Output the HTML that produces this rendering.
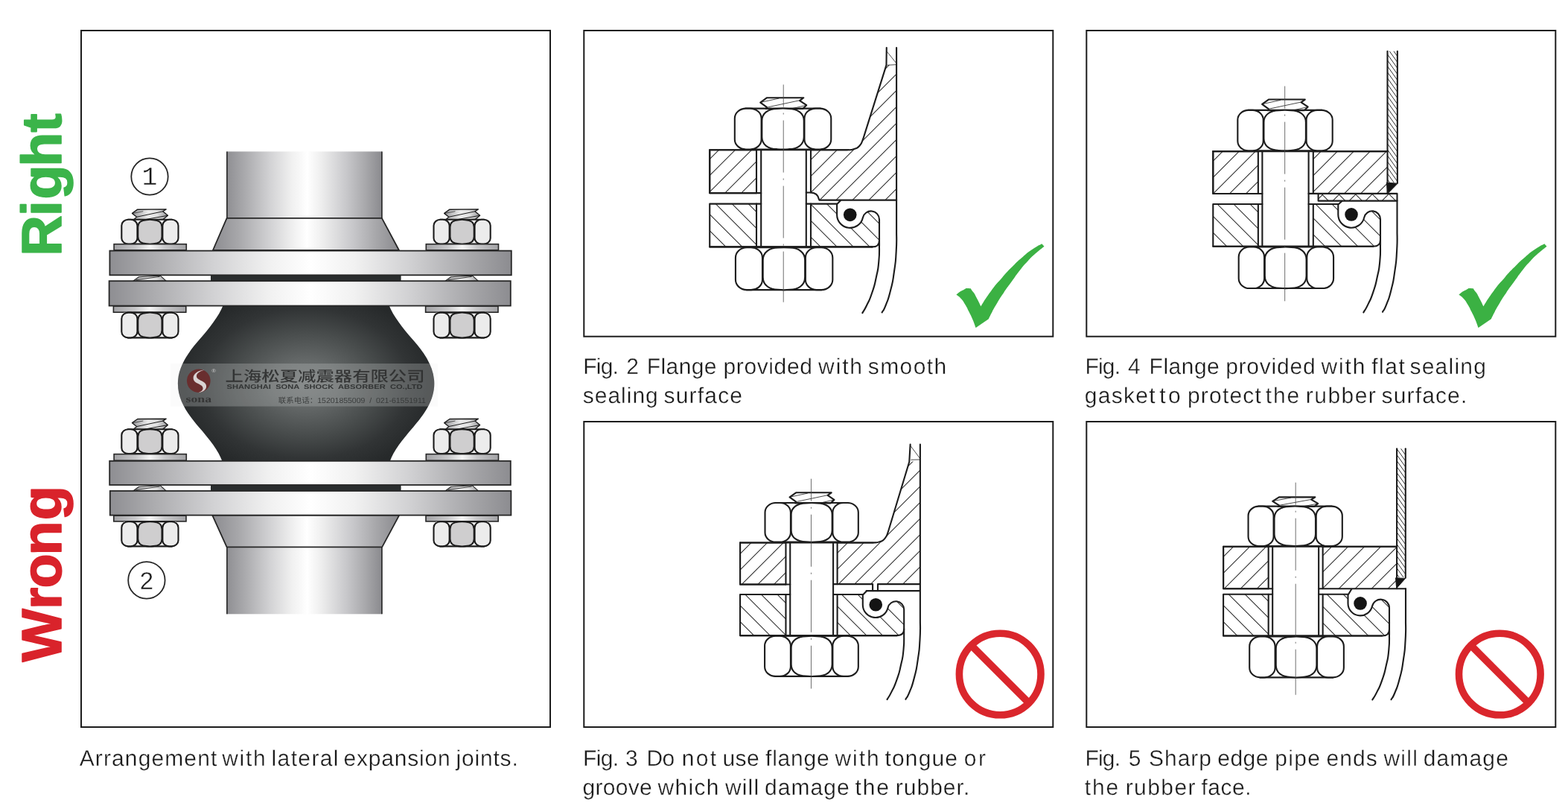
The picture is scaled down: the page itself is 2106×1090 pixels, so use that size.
<!DOCTYPE html>
<html lang="en">
<head>
<meta charset="utf-8">
<title>Flange arrangement for rubber expansion joints</title>
<style>
html,body{margin:0;padding:0;background:#fff;}
body{width:2106px;height:1090px;overflow:hidden;position:relative;font-family:"Liberation Sans","Noto Sans CJK SC",sans-serif;}
svg{position:absolute;left:0;top:0;display:block;will-change:transform;}
text{font-family:"Liberation Sans","Noto Sans CJK SC",sans-serif;text-rendering:geometricPrecision;}
.cap{font-size:30px;fill:#1a1a1a;}
</style>
</head>
<body>
<svg width="2106" height="1090" viewBox="0 0 2106 1090">
<defs>
<clipPath id="hc1"><path d="M953.22 201.29H1016.01V259.13H953.22Z"/></clipPath>
<clipPath id="hc2"><path d="M953.22 273.59H1016.01V331.42H953.22Z"/></clipPath>
<clipPath id="hc3"><path d="M1088.99 201.29L1138.29 201.29C1141.27 200.83 1141.73 201.93 1147.24 199.91C1152.75 197.89 1150.83 199.68 1154.82 195.23C1158.81 190.78 1157.75 189.45 1159.22 186.56L1190.48 87.41L1204.11 86.72L1204.11 268.63L1100.42 268.63L1099.74 267.11Q1098.36 258.85 1088.99 258.44Z"/></clipPath>
<clipPath id="hc4"><path d="M1088.99 273.59L1124.1 273.59L1124.1 288.3A17.6 17.6 0 0 0 1158.87 292.15A11.2 11.2 0 0 1 1181 294.6L1181 322.92Q1181 331.42 1171.5 331.42L1088.99 331.42Z"/></clipPath>
<clipPath id="hc5"><path d="M994.05 728.49H1055.46V784.54H994.05Z"/></clipPath>
<clipPath id="hc6"><path d="M994.05 798.03H1055.46V853.12H994.05Z"/></clipPath>
<clipPath id="hc7"><path d="M1124.59 728.49L1172.78 728.49C1175.77 728.03 1176.46 729.09 1181.74 727.12C1187.02 725.15 1184.95 726.84 1188.62 722.57C1192.29 718.3 1191.37 717.06 1192.75 714.31L1221.26 619.98L1235.85 618.61L1235.85 783.85L1124.59 783.85Z"/></clipPath>
<clipPath id="hc8"><path d="M1124.59 798.03L1158.8 798.03L1158.8 811.9A17.1 17.1 0 0 0 1192.56 815.74A10.96 10.96 0 0 1 1214.2 818.2L1214.2 844.62Q1214.2 853.12 1204.7 853.12L1124.59 853.12Z"/></clipPath>
<clipPath id="hc9"><path d="M1629.28 203.08H1689.87V259.95H1629.28Z"/></clipPath>
<clipPath id="hc10"><path d="M1629.28 274H1689.87V330.73H1629.28Z"/></clipPath>
<clipPath id="hc11"><path d="M1763.81 203.08L1863.51 203.08L1863.51 259.95L1763.81 259.95Z"/></clipPath>
<clipPath id="hc12"><path d="M1863.51 68.82L1876.87 68.82L1876.87 245.08L1863.51 245.08Z"/></clipPath>
<clipPath id="hc13"><path d="M1770.6 259.9H1876.5V269.6H1770.6Z"/></clipPath>
<clipPath id="hc14"><path d="M1770.6 259.9H1876.5V269.6H1770.6Z"/></clipPath>
<clipPath id="hc15"><path d="M1763.81 274L1797.3 274L1797.3 288A17.7 17.7 0 0 0 1832.27 291.89A11 11 0 0 1 1854 294.3L1854 322.23Q1854 330.73 1844.5 330.73L1763.81 330.73Z"/></clipPath>
<clipPath id="hc16"><path d="M1643.08 733.77H1703.67V790.23H1643.08Z"/></clipPath>
<clipPath id="hc17"><path d="M1643.08 797.8H1703.67V853.57H1643.08Z"/></clipPath>
<clipPath id="hc18"><path d="M1776.65 733.77L1876.08 733.77L1876.08 790.23L1776.65 790.23Z"/></clipPath>
<clipPath id="hc19"><path d="M1876.08 602.26L1887.78 602.26L1887.78 775.08L1876.08 775.08Z"/></clipPath>
<clipPath id="hc20"><path d="M1776.65 797.8L1810.5 797.8L1810.5 809.9A16.5 16.5 0 0 0 1843.08 813.6A11.61 11.61 0 0 1 1866 816.2L1866 845.07Q1866 853.57 1856.5 853.57L1776.65 853.57Z"/></clipPath>
<linearGradient id="gFl" gradientUnits="userSpaceOnUse" x1="147" y1="0" x2="687" y2="0">
<stop offset="0" stop-color="#8e8e92"/><stop offset="0.10" stop-color="#a9a9ac"/><stop offset="0.26" stop-color="#d2d2d4"/><stop offset="0.40" stop-color="#f1f1f1"/>
<stop offset="0.50" stop-color="#ffffff"/><stop offset="0.61" stop-color="#f1f1f1"/><stop offset="0.75" stop-color="#d0d0d2"/><stop offset="0.90" stop-color="#a6a6a9"/><stop offset="1" stop-color="#8c8c90"/>
</linearGradient>
<linearGradient id="gPipe" gradientUnits="userSpaceOnUse" x1="304" y1="0" x2="513" y2="0">
<stop offset="0" stop-color="#8e8e92"/><stop offset="0.12" stop-color="#aaaaad"/><stop offset="0.28" stop-color="#d2d2d4"/><stop offset="0.42" stop-color="#f0f0f0"/>
<stop offset="0.52" stop-color="#ffffff"/><stop offset="0.61" stop-color="#eeeeee"/><stop offset="0.77" stop-color="#c8c8cb"/><stop offset="0.90" stop-color="#a6a6a9"/><stop offset="1" stop-color="#8a8a8e"/>
</linearGradient>
<linearGradient id="gCone" gradientUnits="userSpaceOnUse" x1="286" y1="0" x2="536" y2="0">
<stop offset="0" stop-color="#8c8c90"/><stop offset="0.14" stop-color="#a8a8ab"/><stop offset="0.30" stop-color="#d0d0d2"/><stop offset="0.43" stop-color="#f0f0f0"/>
<stop offset="0.505" stop-color="#ffffff"/><stop offset="0.59" stop-color="#eeeeee"/><stop offset="0.75" stop-color="#c8c8cb"/><stop offset="0.88" stop-color="#a6a6a9"/><stop offset="1" stop-color="#8a8a8e"/>
</linearGradient>
<linearGradient id="gWash" x1="0" y1="0" x2="1" y2="0">
<stop offset="0" stop-color="#a2a2a5"/><stop offset="0.3" stop-color="#c8c8ca"/><stop offset="0.5" stop-color="#f6f6f6"/><stop offset="0.7" stop-color="#c8c8ca"/><stop offset="1" stop-color="#a2a2a5"/>
</linearGradient>
<linearGradient id="gThr" x1="0" y1="0" x2="1" y2="0">
<stop offset="0" stop-color="#9a9a9d"/><stop offset="0.45" stop-color="#ececec"/><stop offset="0.7" stop-color="#e0e0e0"/><stop offset="1" stop-color="#9a9a9d"/>
</linearGradient>
<radialGradient id="gRub" gradientUnits="userSpaceOnUse" cx="411" cy="515" r="175" gradientTransform="translate(411 515) scale(1 0.72) translate(-411 -515)">
<stop offset="0" stop-color="#707474"/><stop offset="0.25" stop-color="#646868"/><stop offset="0.55" stop-color="#484c4c"/><stop offset="0.8" stop-color="#313435"/><stop offset="1" stop-color="#26292a"/>
</radialGradient>
<clipPath id="wmclip"><rect x="229" y="488" width="359" height="57.6"/></clipPath>
</defs>
<rect x="0" y="0" width="2106" height="1090" fill="#ffffff"/>
<rect x="109" y="41" width="630" height="935" fill="#fff" stroke="#1c1c1c" stroke-width="2"/>
<rect x="784.3" y="41" width="630" height="410.7" fill="#fff" stroke="#1c1c1c" stroke-width="2"/>
<rect x="784.3" y="566" width="630" height="410" fill="#fff" stroke="#1c1c1c" stroke-width="2"/>
<rect x="1459.3" y="41" width="630" height="410.7" fill="#fff" stroke="#1c1c1c" stroke-width="2"/>
<rect x="1459.3" y="566" width="630" height="410" fill="#fff" stroke="#1c1c1c" stroke-width="2"/>
<path d="M861.67 261.13L923.51 199.29M883.67 261.13L945.51 199.29M905.67 261.13L967.51 199.29M927.67 261.13L989.51 199.29M949.67 261.13L1011.51 199.29M971.67 261.13L1033.51 199.29M993.67 261.13L1055.51 199.29M1015.67 261.13L1077.51 199.29M1037.67 261.13L1099.51 199.29" clip-path="url(#hc1)" fill="none" stroke="#2e2e2e" stroke-width="1.05"/>
<path d="M871.19 271.59L933.02 333.42M893.19 271.59L955.02 333.42M915.19 271.59L977.02 333.42M937.19 271.59L999.02 333.42M959.19 271.59L1021.02 333.42M981.19 271.59L1043.02 333.42M1003.19 271.59L1065.02 333.42M1025.19 271.59L1087.02 333.42M1047.19 271.59L1109.02 333.42" clip-path="url(#hc2)" fill="none" stroke="#2e2e2e" stroke-width="1.05"/>
<path d="M878.18 271.32L1064.78 84.72M900.18 271.32L1086.78 84.72M922.18 271.32L1108.78 84.72M944.18 271.32L1130.78 84.72M966.18 271.32L1152.78 84.72M988.18 271.32L1174.78 84.72M1010.18 271.32L1196.78 84.72M1032.18 271.32L1218.78 84.72M1054.18 271.32L1240.78 84.72M1076.18 271.32L1262.78 84.72M1098.18 271.32L1284.78 84.72M1120.18 271.32L1306.78 84.72M1142.18 271.32L1328.78 84.72M1164.18 271.32L1350.78 84.72M1186.18 271.32L1372.78 84.72M1208.18 271.32L1394.78 84.72M1230.18 271.32L1416.78 84.72" clip-path="url(#hc3)" fill="none" stroke="#2e2e2e" stroke-width="1.05"/>
<path d="M998.39 271.59L1060.22 333.42M1020.39 271.59L1082.22 333.42M1042.39 271.59L1104.22 333.42M1064.39 271.59L1126.22 333.42M1086.39 271.59L1148.22 333.42M1108.39 271.59L1170.22 333.42M1130.39 271.59L1192.22 333.42M1152.39 271.59L1214.22 333.42M1174.39 271.59L1236.22 333.42M1196.39 271.59L1258.22 333.42M1218.39 271.59L1280.22 333.42" clip-path="url(#hc4)" fill="none" stroke="#2e2e2e" stroke-width="1.05"/>
<path d="M953.22 201.29H1016.01M1016.01 259.13H953.22V201.29" fill="none" stroke="#1c1c1c" stroke-width="2.1" stroke-linejoin="round" stroke-linecap="round" />
<path d="M1016.01 201.29V259.13M1016.01 273.59V331.42M1088.99 201.29V258.44M1088.99 273.59V331.42" fill="none" stroke="#1c1c1c" stroke-width="2.1" stroke-linejoin="round" stroke-linecap="round" />
<path d="M1022.21 259.13H953.22V201.29" fill="none" stroke="#1c1c1c" stroke-width="2.1" stroke-linejoin="round" stroke-linecap="round" />
<path d="M1022.21 273.59H953.22V331.42H1171.34" fill="none" stroke="#1c1c1c" stroke-width="2.1" stroke-linejoin="round" stroke-linecap="round" />
<path d="M1022.21 201.29V331.42M1082.8 201.29V331.42" fill="none" stroke="#1c1c1c" stroke-width="2.1" stroke-linejoin="round" stroke-linecap="round" />
<path d="M1088.99 201.29L1138.29 201.29C1141.27 200.83 1141.73 201.93 1147.24 199.91C1152.75 197.89 1150.83 199.68 1154.82 195.23C1158.81 190.78 1157.75 189.45 1159.22 186.56L1190.48 87.41L1190.76 64" fill="none" stroke="#1c1c1c" stroke-width="2.1" stroke-linejoin="round" stroke-linecap="round" />
<path d="M1190.9 68.82L1203.7 84.66M1192 87.41L1203.7 86.72" fill="none" stroke="#1c1c1c" stroke-width="0.8" stroke-linejoin="round" stroke-linecap="round" />
<path d="M1082.8 258.44L1088.99 258.44Q1098.36 258.85 1099.74 267.11L1100.42 268.63L1204.11 268.63" fill="none" stroke="#1c1c1c" stroke-width="2.1" stroke-linejoin="round" stroke-linecap="round" />
<path d="M1082.8 273.59L1124.7 273.59L1128.9 269.2" fill="none" stroke="#1c1c1c" stroke-width="2.1" stroke-linejoin="round" stroke-linecap="round" />
<path d="M1124.1 274.39L1124.1 288.3A17.6 17.6 0 0 0 1158.87 292.15A11.2 11.2 0 0 1 1181 294.6L1181 329.42C1180.77 336.69 1181.67 337.05 1180.3 351.22C1178.93 365.39 1179.87 358.15 1176.9 371.92C1173.93 385.69 1175.53 380.15 1171.4 392.52C1167.27 404.89 1168.87 399.82 1164.5 409.02C1160.13 418.22 1160.37 416.42 1158.3 420.12" fill="none" stroke="#1c1c1c" stroke-width="2.1" stroke-linejoin="round" stroke-linecap="round" />
<path d="M1181 322.92Q1181 331.42 1171.5 331.42" fill="none" stroke="#1c1c1c" stroke-width="2.1" stroke-linejoin="round" stroke-linecap="round" />
<path d="M1204.1 64L1204.1 310.42C1203.97 319.42 1204.77 319.22 1203.7 337.42C1202.63 355.62 1203.43 347.55 1200.9 365.02C1198.37 382.49 1199.77 375.15 1196.1 389.82C1192.43 404.49 1193.73 399.15 1189.9 409.02C1186.07 418.89 1186.37 415.95 1184.6 419.42" fill="none" stroke="#1c1c1c" stroke-width="2.1" stroke-linejoin="round" stroke-linecap="round" />
<path d="M1030.1 131.2L1079.31 131.2L1074.1 135.04L1083.21 141.24L1078.25 145.96L1028.68 145.96L1030.23 144.19L1021.24 137.55Z" fill="#fff" stroke="#1c1c1c" stroke-width="2.1" stroke-linejoin="round" stroke-linecap="round" />
<path d="M1023.1 137.1L1046.03 132.09M1031.65 143.75L1074.1 134.74M1064 145.66L1083.21 141.24" fill="none" stroke="#1c1c1c" stroke-width="0.8" stroke-linejoin="round" stroke-linecap="round" />
<path d="M1001.14 145.66L1101.94 145.66M1001.14 200.47L1101.94 200.47" fill="none" stroke="#1c1c1c" stroke-width="2.1" stroke-linejoin="round" stroke-linecap="round" />
<rect x="986.82" y="145.66" width="35.8" height="54.81" rx="15.04" ry="13.15" fill="#fff" stroke="#1c1c1c" stroke-width="2.1"/>
<rect x="1080.46" y="145.66" width="35.8" height="54.81" rx="15.04" ry="13.15" fill="#fff" stroke="#1c1c1c" stroke-width="2.1"/>
<path d="M1023.31 162.1C1023.31 151.42 1032.46 146.16 1043.64 145.96Q1051.54 145.16 1059.44 145.96C1070.62 146.16 1079.77 151.42 1079.77 162.1L1079.77 184.03C1079.77 194.71 1070.62 199.97 1059.44 200.17Q1051.54 200.97 1043.64 200.17C1032.46 199.97 1023.31 194.71 1023.31 184.03Z" fill="#fff" stroke="#1c1c1c" stroke-width="2.1" stroke-linejoin="round" stroke-linecap="round" />
<path d="M1002.35 332.25L1103.73 332.25M1002.35 389.12L1103.73 389.12" fill="none" stroke="#1c1c1c" stroke-width="2.1" stroke-linejoin="round" stroke-linecap="round" />
<rect x="987.92" y="332.25" width="36.08" height="56.87" rx="15.15" ry="13.65" fill="#fff" stroke="#1c1c1c" stroke-width="2.1"/>
<rect x="1081.83" y="332.25" width="36.5" height="56.87" rx="15.15" ry="13.65" fill="#fff" stroke="#1c1c1c" stroke-width="2.1"/>
<path d="M1024.69 349.31C1024.69 338.22 1033.84 332.75 1045.02 332.55Q1052.92 331.75 1060.82 332.55C1072 332.75 1081.15 338.22 1081.15 349.31L1081.15 372.06C1081.15 383.15 1072 388.62 1060.82 388.82Q1052.92 389.62 1045.02 388.82C1033.84 388.62 1024.69 383.15 1024.69 372.06Z" fill="#fff" stroke="#1c1c1c" stroke-width="2.1" stroke-linejoin="round" stroke-linecap="round" />
<path d="M953.22 201.29H1138.29" fill="none" stroke="#1c1c1c" stroke-width="2.1" stroke-linejoin="round" stroke-linecap="round" />
<path d="M953.22 331.42H1171.34" fill="none" stroke="#1c1c1c" stroke-width="2.1" stroke-linejoin="round" stroke-linecap="round" />
<path d="M1052.23 113.57L1052.23 405.64" fill="none" stroke="#4a4a4a" stroke-width="0.8" stroke-dasharray="70 8 2 8" stroke-dashoffset="40"/>
<circle cx="1141.74" cy="288.32" r="8.81" fill="#141414"/>
<path d="M907.76 786.54L967.81 726.49M929.36 786.54L989.41 726.49M950.96 786.54L1011.01 726.49M972.56 786.54L1032.61 726.49M994.16 786.54L1054.21 726.49M1015.76 786.54L1075.81 726.49M1037.36 786.54L1097.41 726.49M1058.96 786.54L1119.01 726.49M1080.56 786.54L1140.61 726.49" clip-path="url(#hc5)" fill="none" stroke="#2e2e2e" stroke-width="1.05"/>
<path d="M912.43 796.03L971.52 855.12M934.03 796.03L993.12 855.12M955.63 796.03L1014.72 855.12M977.23 796.03L1036.32 855.12M998.83 796.03L1057.92 855.12M1020.43 796.03L1079.52 855.12M1042.03 796.03L1101.12 855.12M1063.63 796.03L1122.72 855.12M1085.23 796.03L1144.32 855.12" clip-path="url(#hc6)" fill="none" stroke="#2e2e2e" stroke-width="1.05"/>
<path d="M930.05 785.85L1099.29 616.61M951.65 785.85L1120.89 616.61M973.25 785.85L1142.49 616.61M994.85 785.85L1164.09 616.61M1016.45 785.85L1185.69 616.61M1038.05 785.85L1207.29 616.61M1059.65 785.85L1228.89 616.61M1081.25 785.85L1250.49 616.61M1102.85 785.85L1272.09 616.61M1124.45 785.85L1293.69 616.61M1146.05 785.85L1315.29 616.61M1167.65 785.85L1336.89 616.61M1189.25 785.85L1358.49 616.61M1210.85 785.85L1380.09 616.61M1232.45 785.85L1401.69 616.61M1254.05 785.85L1423.29 616.61M1275.65 785.85L1444.89 616.61" clip-path="url(#hc7)" fill="none" stroke="#2e2e2e" stroke-width="1.05"/>
<path d="M1042.03 796.03L1101.12 855.12M1063.63 796.03L1122.72 855.12M1085.23 796.03L1144.32 855.12M1106.83 796.03L1165.92 855.12M1128.43 796.03L1187.52 855.12M1150.03 796.03L1209.12 855.12M1171.63 796.03L1230.72 855.12M1193.23 796.03L1252.32 855.12M1214.83 796.03L1273.92 855.12M1236.43 796.03L1295.52 855.12" clip-path="url(#hc8)" fill="none" stroke="#2e2e2e" stroke-width="1.05"/>
<path d="M994.05 728.49H1055.46M1055.46 784.54H994.05V728.49" fill="none" stroke="#1c1c1c" stroke-width="2.1" stroke-linejoin="round" stroke-linecap="round" />
<path d="M1055.46 728.49V784.54M1055.46 798.03V853.12M1124.59 728.49V784.13M1124.59 798.03V853.12" fill="none" stroke="#1c1c1c" stroke-width="2.1" stroke-linejoin="round" stroke-linecap="round" />
<path d="M1061.24 784.54H994.05V728.49" fill="none" stroke="#1c1c1c" stroke-width="2.1" stroke-linejoin="round" stroke-linecap="round" />
<path d="M1061.24 798.03H994.05V853.12H1204.46" fill="none" stroke="#1c1c1c" stroke-width="2.1" stroke-linejoin="round" stroke-linecap="round" />
<path d="M1061.24 728.49V853.12M1119.08 728.49V853.12" fill="none" stroke="#1c1c1c" stroke-width="2.1" stroke-linejoin="round" stroke-linecap="round" />
<path d="M1124.59 728.49L1172.78 728.49C1175.77 728.03 1176.46 729.09 1181.74 727.12C1187.02 725.15 1184.95 726.84 1188.62 722.57C1192.29 718.3 1191.37 717.06 1192.75 714.31L1221.26 619.98L1222.63 596.58" fill="none" stroke="#1c1c1c" stroke-width="2.1" stroke-linejoin="round" stroke-linecap="round" />
<path d="M1223.05 598.64L1235.44 615.17M1223.73 617.23L1235.44 616.96" fill="none" stroke="#1c1c1c" stroke-width="0.8" stroke-linejoin="round" stroke-linecap="round" />
<path d="M1119.08 784.13L1172.1 784.13L1172.1 793.1M1178.98 793.1L1178.98 784.13L1235.85 784.13" fill="none" stroke="#1c1c1c" stroke-width="2.1" stroke-linejoin="round" stroke-linecap="round" />
<path d="M1163.6 793.1L1235.9 793.1" fill="none" stroke="#1c1c1c" stroke-width="2.1" stroke-linejoin="round" stroke-linecap="round" />
<path d="M1119.08 798.03L1159.4 798.03L1163.6 793.7" fill="none" stroke="#1c1c1c" stroke-width="2.1" stroke-linejoin="round" stroke-linecap="round" />
<path d="M1158.8 798.83L1158.8 811.9A17.1 17.1 0 0 0 1192.56 815.74A10.96 10.96 0 0 1 1214.2 818.2L1214.2 851.12C1213.97 858.17 1214.87 858.55 1213.5 872.27C1212.13 885.99 1213.07 878.97 1210.1 892.28C1207.13 905.6 1208.73 900.25 1204.6 912.2C1200.47 924.16 1202.07 919.26 1197.7 928.16C1193.33 937.06 1193.57 935.32 1191.5 938.89" fill="none" stroke="#1c1c1c" stroke-width="2.1" stroke-linejoin="round" stroke-linecap="round" />
<path d="M1214.2 844.62Q1214.2 853.12 1204.7 853.12" fill="none" stroke="#1c1c1c" stroke-width="2.1" stroke-linejoin="round" stroke-linecap="round" />
<path d="M1235.9 596.5L1235.9 832.12C1235.77 841.06 1236.57 841.07 1235.5 858.95C1234.43 876.84 1235.23 868.8 1232.7 885.78C1230.17 902.76 1231.57 895.63 1227.9 909.88C1224.23 924.14 1225.53 918.96 1221.7 928.55C1217.87 938.14 1218.17 935.29 1216.4 938.66" fill="none" stroke="#1c1c1c" stroke-width="2.1" stroke-linejoin="round" stroke-linecap="round" />
<path d="M1069.13 661.3L1116.69 661.3L1111.65 664.96L1120.46 670.87L1115.67 675.37L1067.75 675.37L1069.25 673.68L1060.56 667.35Z" fill="#fff" stroke="#1c1c1c" stroke-width="2.1" stroke-linejoin="round" stroke-linecap="round" />
<path d="M1062.36 666.93L1084.52 662.14M1070.62 673.26L1111.65 664.68M1101.89 675.09L1120.46 670.87" fill="none" stroke="#1c1c1c" stroke-width="0.8" stroke-linejoin="round" stroke-linecap="round" />
<path d="M1041.28 675.07L1139.05 675.07M1041.28 727.67L1139.05 727.67" fill="none" stroke="#1c1c1c" stroke-width="2.1" stroke-linejoin="round" stroke-linecap="round" />
<rect x="1027.51" y="675.07" width="34.42" height="52.6" rx="14.46" ry="12.62" fill="#fff" stroke="#1c1c1c" stroke-width="2.1"/>
<rect x="1118.39" y="675.07" width="34.43" height="52.6" rx="14.46" ry="12.62" fill="#fff" stroke="#1c1c1c" stroke-width="2.1"/>
<path d="M1062.62 690.85C1062.62 680.59 1071.54 675.57 1082.45 675.37Q1090.16 674.57 1097.87 675.37C1108.78 675.57 1117.7 680.59 1117.7 690.85L1117.7 711.89C1117.7 722.15 1108.78 727.17 1097.87 727.37Q1090.16 728.17 1082.45 727.37C1071.54 727.17 1062.62 722.15 1062.62 711.89Z" fill="#fff" stroke="#1c1c1c" stroke-width="2.1" stroke-linejoin="round" stroke-linecap="round" />
<path d="M1041.03 853.8L1139.05 853.8M1041.03 907.92L1139.05 907.92" fill="none" stroke="#1c1c1c" stroke-width="2.1" stroke-linejoin="round" stroke-linecap="round" />
<rect x="1027.09" y="853.8" width="34.84" height="54.12" rx="14.63" ry="12.99" fill="#fff" stroke="#1c1c1c" stroke-width="2.1"/>
<rect x="1118.39" y="853.8" width="34.43" height="54.12" rx="14.63" ry="12.99" fill="#fff" stroke="#1c1c1c" stroke-width="2.1"/>
<path d="M1062.62 870.04C1062.62 859.48 1071.54 854.3 1082.45 854.1Q1090.16 853.3 1097.87 854.1C1108.78 854.3 1117.7 859.48 1117.7 870.04L1117.7 891.68C1117.7 902.24 1108.78 907.42 1097.87 907.62Q1090.16 908.42 1082.45 907.62C1071.54 907.42 1062.62 902.24 1062.62 891.68Z" fill="#fff" stroke="#1c1c1c" stroke-width="2.1" stroke-linejoin="round" stroke-linecap="round" />
<path d="M994.05 728.49H1172.78" fill="none" stroke="#1c1c1c" stroke-width="2.1" stroke-linejoin="round" stroke-linecap="round" />
<path d="M994.05 853.12H1204.46" fill="none" stroke="#1c1c1c" stroke-width="2.1" stroke-linejoin="round" stroke-linecap="round" />
<path d="M1089.47 642.71L1089.47 924.45" fill="none" stroke="#4a4a4a" stroke-width="0.8" stroke-dasharray="70 8 2 8" stroke-dashoffset="40"/>
<circle cx="1176.23" cy="811.81" r="8.81" fill="#141414"/>
<path d="M1539.45 261.95L1600.32 201.08M1561.45 261.95L1622.32 201.08M1583.45 261.95L1644.32 201.08M1605.45 261.95L1666.32 201.08M1627.45 261.95L1688.32 201.08M1649.45 261.95L1710.32 201.08M1671.45 261.95L1732.32 201.08M1693.45 261.95L1754.32 201.08M1715.45 261.95L1776.32 201.08" clip-path="url(#hc9)" fill="none" stroke="#2e2e2e" stroke-width="1.05"/>
<path d="M1545 272L1605.73 332.73M1567 272L1627.73 332.73M1589 272L1649.73 332.73M1611 272L1671.73 332.73M1633 272L1693.73 332.73M1655 272L1715.73 332.73M1677 272L1737.73 332.73M1699 272L1759.73 332.73M1721 272L1781.73 332.73" clip-path="url(#hc10)" fill="none" stroke="#2e2e2e" stroke-width="1.05"/>
<path d="M1671.45 261.95L1732.32 201.08M1693.45 261.95L1754.32 201.08M1715.45 261.95L1776.32 201.08M1737.45 261.95L1798.32 201.08M1759.45 261.95L1820.32 201.08M1781.45 261.95L1842.32 201.08M1803.45 261.95L1864.32 201.08M1825.45 261.95L1886.32 201.08M1847.45 261.95L1908.32 201.08M1869.45 261.95L1930.32 201.08M1891.45 261.95L1952.32 201.08" clip-path="url(#hc11)" fill="none" stroke="#2e2e2e" stroke-width="1.05"/>
<path d="M1861.51 38.11L1878.87 62.42M1861.51 46.11L1878.87 70.42M1861.51 54.11L1878.87 78.42M1861.51 62.11L1878.87 86.42M1861.51 70.11L1878.87 94.42M1861.51 78.11L1878.87 102.42M1861.51 86.11L1878.87 110.42M1861.51 94.11L1878.87 118.42M1861.51 102.11L1878.87 126.42M1861.51 110.11L1878.87 134.42M1861.51 118.11L1878.87 142.42M1861.51 126.11L1878.87 150.42M1861.51 134.11L1878.87 158.42M1861.51 142.11L1878.87 166.42M1861.51 150.11L1878.87 174.42M1861.51 158.11L1878.87 182.42M1861.51 166.11L1878.87 190.42M1861.51 174.11L1878.87 198.42M1861.51 182.11L1878.87 206.42M1861.51 190.11L1878.87 214.42M1861.51 198.11L1878.87 222.42M1861.51 206.11L1878.87 230.42M1861.51 214.11L1878.87 238.42M1861.51 222.11L1878.87 246.42M1861.51 230.11L1878.87 254.42M1861.51 238.11L1878.87 262.42M1861.51 246.11L1878.87 270.42M1861.51 254.11L1878.87 278.42" clip-path="url(#hc12)" fill="none" stroke="#2e2e2e" stroke-width="1.0"/>
<path d="M1722.1 271.6L1735.8 257.9M1744.1 271.6L1757.8 257.9M1766.1 271.6L1779.8 257.9M1788.1 271.6L1801.8 257.9M1810.1 271.6L1823.8 257.9M1832.1 271.6L1845.8 257.9M1854.1 271.6L1867.8 257.9M1876.1 271.6L1889.8 257.9M1898.1 271.6L1911.8 257.9" clip-path="url(#hc13)" fill="none" stroke="#2e2e2e" stroke-width="1.05"/>
<path d="M1727.4 257.9L1741.1 271.6M1750 257.9L1763.7 271.6M1772.6 257.9L1786.3 271.6M1795.2 257.9L1808.9 271.6M1817.8 257.9L1831.5 271.6M1840.4 257.9L1854.1 271.6M1863 257.9L1876.7 271.6M1885.6 257.9L1899.3 271.6M1908.2 257.9L1921.9 271.6" clip-path="url(#hc14)" fill="none" stroke="#2e2e2e" stroke-width="1.05"/>
<path d="M1677 272L1737.73 332.73M1699 272L1759.73 332.73M1721 272L1781.73 332.73M1743 272L1803.73 332.73M1765 272L1825.73 332.73M1787 272L1847.73 332.73M1809 272L1869.73 332.73M1831 272L1891.73 332.73M1853 272L1913.73 332.73M1875 272L1935.73 332.73" clip-path="url(#hc15)" fill="none" stroke="#2e2e2e" stroke-width="1.05"/>
<path d="M1629.28 203.08H1689.87M1689.87 259.95H1629.28V203.08" fill="none" stroke="#1c1c1c" stroke-width="2.1" stroke-linejoin="round" stroke-linecap="round" />
<path d="M1689.87 203.08V259.95M1689.87 274V330.73M1763.81 203.08V259.95M1763.81 274V330.73" fill="none" stroke="#1c1c1c" stroke-width="2.1" stroke-linejoin="round" stroke-linecap="round" />
<path d="M1695.38 259.95H1629.28V203.08" fill="none" stroke="#1c1c1c" stroke-width="2.1" stroke-linejoin="round" stroke-linecap="round" />
<path d="M1695.38 274H1629.28V330.73H1844.1" fill="none" stroke="#1c1c1c" stroke-width="2.1" stroke-linejoin="round" stroke-linecap="round" />
<path d="M1695.38 203.08V330.73M1757.62 203.08V330.73" fill="none" stroke="#1c1c1c" stroke-width="2.1" stroke-linejoin="round" stroke-linecap="round" />
<path d="M1763.81 203.08L1863.51 203.08" fill="none" stroke="#1c1c1c" stroke-width="2.1" stroke-linejoin="round" stroke-linecap="round" />
<path d="M1863.51 68.82L1863.51 259.95" fill="none" stroke="#1c1c1c" stroke-width="2.1" stroke-linejoin="round" stroke-linecap="round" />
<path d="M1876.87 68.82L1876.87 245.63" fill="none" stroke="#1c1c1c" stroke-width="2.1" stroke-linejoin="round" stroke-linecap="round" />
<path d="M1862.6 245.2L1877.2 246.2L1864.4 259.3Z" fill="#141414" stroke="#1c1c1c" stroke-width="1" stroke-linejoin="round" stroke-linecap="round" />
<path d="M1757.62 259.9H1876.5V269.6H1770.6V259.9" fill="none" stroke="#1c1c1c" stroke-width="2.1" stroke-linejoin="round" stroke-linecap="round" />
<path d="M1757.62 274L1797.9 274L1802.1 270.2" fill="none" stroke="#1c1c1c" stroke-width="2.1" stroke-linejoin="round" stroke-linecap="round" />
<path d="M1797.3 274.8L1797.3 288A17.7 17.7 0 0 0 1832.27 291.89A11 11 0 0 1 1854 294.3L1854 328.73C1853.77 336 1854.67 336.36 1853.3 350.53C1851.93 364.7 1852.87 357.46 1849.9 371.23C1846.93 385 1848.53 379.46 1844.4 391.83C1840.27 404.2 1841.87 399.13 1837.5 408.33C1833.13 417.53 1833.37 415.73 1831.3 419.43" fill="none" stroke="#1c1c1c" stroke-width="2.1" stroke-linejoin="round" stroke-linecap="round" />
<path d="M1854 322.23Q1854 330.73 1844.5 330.73" fill="none" stroke="#1c1c1c" stroke-width="2.1" stroke-linejoin="round" stroke-linecap="round" />
<path d="M1876.5 269.6L1876.5 309.73C1876.37 318.73 1877.17 318.53 1876.1 336.73C1875.03 354.93 1875.83 346.86 1873.3 364.33C1870.77 381.8 1872.17 374.46 1868.5 389.13C1864.83 403.8 1866.13 398.46 1862.3 408.33C1858.47 418.2 1858.77 415.26 1857 418.73" fill="none" stroke="#1c1c1c" stroke-width="2.1" stroke-linejoin="round" stroke-linecap="round" />
<path d="M1703.9 133.54L1752.77 133.54L1747.6 137.34L1756.65 143.48L1751.73 148.16L1702.49 148.16L1704.02 146.41L1695.1 139.83Z" fill="#fff" stroke="#1c1c1c" stroke-width="2.1" stroke-linejoin="round" stroke-linecap="round" />
<path d="M1696.95 139.39L1719.72 134.42M1705.44 145.97L1747.6 137.05M1737.57 147.87L1756.65 143.48" fill="none" stroke="#1c1c1c" stroke-width="0.8" stroke-linejoin="round" stroke-linecap="round" />
<path d="M1676.1 147.86L1775.66 147.86M1676.1 202.26L1775.66 202.26" fill="none" stroke="#1c1c1c" stroke-width="2.1" stroke-linejoin="round" stroke-linecap="round" />
<rect x="1662.33" y="147.86" width="34.42" height="54.4" rx="14.46" ry="13.06" fill="#fff" stroke="#1c1c1c" stroke-width="2.1"/>
<rect x="1754.59" y="147.86" width="35.11" height="54.4" rx="14.46" ry="13.06" fill="#fff" stroke="#1c1c1c" stroke-width="2.1"/>
<path d="M1697.44 164.18C1697.44 153.57 1706.59 148.36 1717.77 148.16Q1725.67 147.36 1733.57 148.16C1744.75 148.36 1753.9 153.57 1753.9 164.18L1753.9 185.94C1753.9 196.55 1744.75 201.76 1733.57 201.96Q1725.67 202.76 1717.77 201.96C1706.59 201.76 1697.44 196.55 1697.44 185.94Z" fill="#fff" stroke="#1c1c1c" stroke-width="2.1" stroke-linejoin="round" stroke-linecap="round" />
<path d="M1677.47 331.56L1776.76 331.56M1677.47 387.05L1776.76 387.05" fill="none" stroke="#1c1c1c" stroke-width="2.1" stroke-linejoin="round" stroke-linecap="round" />
<rect x="1663.7" y="331.56" width="34.43" height="55.49" rx="14.46" ry="13.32" fill="#fff" stroke="#1c1c1c" stroke-width="2.1"/>
<rect x="1755.28" y="331.56" width="35.8" height="55.49" rx="14.46" ry="13.32" fill="#fff" stroke="#1c1c1c" stroke-width="2.1"/>
<path d="M1698.82 348.21C1698.82 337.39 1707.85 332.06 1718.9 331.86Q1726.7 331.06 1734.51 331.86C1745.56 332.06 1754.59 337.39 1754.59 348.21L1754.59 370.4C1754.59 381.22 1745.56 386.55 1734.51 386.75Q1726.7 387.55 1718.9 386.75C1707.85 386.55 1698.82 381.22 1698.82 370.4Z" fill="#fff" stroke="#1c1c1c" stroke-width="2.1" stroke-linejoin="round" stroke-linecap="round" />
<path d="M1629.28 203.08H1863.51" fill="none" stroke="#1c1c1c" stroke-width="2.1" stroke-linejoin="round" stroke-linecap="round" />
<path d="M1629.28 330.73H1844.1" fill="none" stroke="#1c1c1c" stroke-width="2.1" stroke-linejoin="round" stroke-linecap="round" />
<path d="M1725.67 115.64L1725.67 404.27" fill="none" stroke="#4a4a4a" stroke-width="0.8" stroke-dasharray="70 8 2 8" stroke-dashoffset="40"/>
<circle cx="1815.04" cy="287.91" r="8.81" fill="#141414"/>
<path d="M1554.17 792.23L1614.63 731.77M1576.17 792.23L1636.63 731.77M1598.17 792.23L1658.63 731.77M1620.17 792.23L1680.63 731.77M1642.17 792.23L1702.63 731.77M1664.17 792.23L1724.63 731.77M1686.17 792.23L1746.63 731.77M1708.17 792.23L1768.63 731.77M1730.17 792.23L1790.63 731.77" clip-path="url(#hc16)" fill="none" stroke="#2e2e2e" stroke-width="1.05"/>
<path d="M1560.2 795.8L1619.97 855.57M1582.2 795.8L1641.97 855.57M1604.2 795.8L1663.97 855.57M1626.2 795.8L1685.97 855.57M1648.2 795.8L1707.97 855.57M1670.2 795.8L1729.97 855.57M1692.2 795.8L1751.97 855.57M1714.2 795.8L1773.97 855.57M1736.2 795.8L1795.97 855.57" clip-path="url(#hc17)" fill="none" stroke="#2e2e2e" stroke-width="1.05"/>
<path d="M1686.17 792.23L1746.63 731.77M1708.17 792.23L1768.63 731.77M1730.17 792.23L1790.63 731.77M1752.17 792.23L1812.63 731.77M1774.17 792.23L1834.63 731.77M1796.17 792.23L1856.63 731.77M1818.17 792.23L1878.63 731.77M1840.17 792.23L1900.63 731.77M1862.17 792.23L1922.63 731.77M1884.17 792.23L1944.63 731.77M1906.17 792.23L1966.63 731.77" clip-path="url(#hc18)" fill="none" stroke="#2e2e2e" stroke-width="1.05"/>
<path d="M1874.08 567.71L1889.78 589.69M1874.08 575.71L1889.78 597.69M1874.08 583.71L1889.78 605.69M1874.08 591.71L1889.78 613.69M1874.08 599.71L1889.78 621.69M1874.08 607.71L1889.78 629.69M1874.08 615.71L1889.78 637.69M1874.08 623.71L1889.78 645.69M1874.08 631.71L1889.78 653.69M1874.08 639.71L1889.78 661.69M1874.08 647.71L1889.78 669.69M1874.08 655.71L1889.78 677.69M1874.08 663.71L1889.78 685.69M1874.08 671.71L1889.78 693.69M1874.08 679.71L1889.78 701.69M1874.08 687.71L1889.78 709.69M1874.08 695.71L1889.78 717.69M1874.08 703.71L1889.78 725.69M1874.08 711.71L1889.78 733.69M1874.08 719.71L1889.78 741.69M1874.08 727.71L1889.78 749.69M1874.08 735.71L1889.78 757.69M1874.08 743.71L1889.78 765.69M1874.08 751.71L1889.78 773.69M1874.08 759.71L1889.78 781.69M1874.08 767.71L1889.78 789.69M1874.08 775.71L1889.78 797.69M1874.08 783.71L1889.78 805.69" clip-path="url(#hc19)" fill="none" stroke="#2e2e2e" stroke-width="1.0"/>
<path d="M1692.2 795.8L1751.97 855.57M1714.2 795.8L1773.97 855.57M1736.2 795.8L1795.97 855.57M1758.2 795.8L1817.97 855.57M1780.2 795.8L1839.97 855.57M1802.2 795.8L1861.97 855.57M1824.2 795.8L1883.97 855.57M1846.2 795.8L1905.97 855.57M1868.2 795.8L1927.97 855.57M1890.2 795.8L1949.97 855.57" clip-path="url(#hc20)" fill="none" stroke="#2e2e2e" stroke-width="1.05"/>
<path d="M1643.08 733.77H1703.67M1703.67 790.23H1643.08V733.77" fill="none" stroke="#1c1c1c" stroke-width="2.1" stroke-linejoin="round" stroke-linecap="round" />
<path d="M1703.67 733.77V790.23M1703.67 797.8V853.57M1776.65 733.77V790.23M1776.65 797.8V853.57" fill="none" stroke="#1c1c1c" stroke-width="2.1" stroke-linejoin="round" stroke-linecap="round" />
<path d="M1709.18 790.23H1643.08V733.77" fill="none" stroke="#1c1c1c" stroke-width="2.1" stroke-linejoin="round" stroke-linecap="round" />
<path d="M1709.18 797.8H1643.08V853.57H1855.83" fill="none" stroke="#1c1c1c" stroke-width="2.1" stroke-linejoin="round" stroke-linecap="round" />
<path d="M1709.18 733.77V853.57M1771.15 733.77V853.57" fill="none" stroke="#1c1c1c" stroke-width="2.1" stroke-linejoin="round" stroke-linecap="round" />
<path d="M1776.65 733.77L1876.08 733.77" fill="none" stroke="#1c1c1c" stroke-width="2.1" stroke-linejoin="round" stroke-linecap="round" />
<path d="M1876.08 602.26L1876.08 790.23" fill="none" stroke="#1c1c1c" stroke-width="2.1" stroke-linejoin="round" stroke-linecap="round" />
<path d="M1887.78 602.26L1887.78 775.63" fill="none" stroke="#1c1c1c" stroke-width="2.1" stroke-linejoin="round" stroke-linecap="round" />
<path d="M1874.8 775.8L1887.6 776.4L1876.0 789.4Z" fill="#141414" stroke="#1c1c1c" stroke-width="1" stroke-linejoin="round" stroke-linecap="round" />
<path d="M1771.15 790.2H1888" fill="none" stroke="#1c1c1c" stroke-width="2.1" stroke-linejoin="round" stroke-linecap="round" />
<path d="M1771.15 797.8L1811.1 797.8L1815.3 790.8" fill="none" stroke="#1c1c1c" stroke-width="2.1" stroke-linejoin="round" stroke-linecap="round" />
<path d="M1810.5 798.6L1810.5 809.9A16.5 16.5 0 0 0 1843.08 813.6A11.61 11.61 0 0 1 1866 816.2L1866 851.57C1865.77 858.62 1866.67 859 1865.3 872.72C1863.93 886.44 1864.87 879.42 1861.9 892.73C1858.93 906.05 1860.53 900.7 1856.4 912.65C1852.27 924.61 1853.87 919.71 1849.5 928.61C1845.13 937.51 1845.37 935.77 1843.3 939.34" fill="none" stroke="#1c1c1c" stroke-width="2.1" stroke-linejoin="round" stroke-linecap="round" />
<path d="M1866 845.07Q1866 853.57 1856.5 853.57" fill="none" stroke="#1c1c1c" stroke-width="2.1" stroke-linejoin="round" stroke-linecap="round" />
<path d="M1888 790.2L1888 832.57C1887.87 841.51 1888.67 841.52 1887.6 859.4C1886.53 877.29 1887.33 869.25 1884.8 886.23C1882.27 903.21 1883.67 896.08 1880 910.33C1876.33 924.59 1877.63 919.41 1873.8 929C1869.97 938.59 1870.27 935.74 1868.5 939.11" fill="none" stroke="#1c1c1c" stroke-width="2.1" stroke-linejoin="round" stroke-linecap="round" />
<path d="M1717.9 667.4L1766.34 667.4L1761.21 670.66L1770.18 675.93L1765.3 679.95L1716.5 679.95L1718.03 678.44L1709.18 672.8Z" fill="#fff" stroke="#1c1c1c" stroke-width="2.1" stroke-linejoin="round" stroke-linecap="round" />
<path d="M1711.01 672.42L1733.58 668.15M1719.43 678.07L1761.21 670.41M1751.27 679.7L1770.18 675.93" fill="none" stroke="#1c1c1c" stroke-width="0.8" stroke-linejoin="round" stroke-linecap="round" />
<path d="M1690.15 679.65L1788.77 679.65M1690.15 732.94L1788.77 732.94" fill="none" stroke="#1c1c1c" stroke-width="2.1" stroke-linejoin="round" stroke-linecap="round" />
<rect x="1676.54" y="679.65" width="34.02" height="53.29" rx="14.29" ry="12.79" fill="#fff" stroke="#1c1c1c" stroke-width="2.1"/>
<rect x="1767.7" y="679.65" width="35.12" height="53.29" rx="14.29" ry="12.79" fill="#fff" stroke="#1c1c1c" stroke-width="2.1"/>
<path d="M1711.52 695.64C1711.52 685.25 1720.51 680.15 1731.5 679.95Q1739.26 679.15 1747.03 679.95C1758.02 680.15 1767.01 685.25 1767.01 695.64L1767.01 716.95C1767.01 727.34 1758.02 732.44 1747.03 732.64Q1739.26 733.44 1731.5 732.64C1720.51 732.44 1711.52 727.34 1711.52 716.95Z" fill="#fff" stroke="#1c1c1c" stroke-width="2.1" stroke-linejoin="round" stroke-linecap="round" />
<path d="M1691.97 854.54L1790.56 854.54M1691.97 909.34L1790.56 909.34" fill="none" stroke="#1c1c1c" stroke-width="2.1" stroke-linejoin="round" stroke-linecap="round" />
<rect x="1678.2" y="854.54" width="34.42" height="54.8" rx="14.46" ry="13.15" fill="#fff" stroke="#1c1c1c" stroke-width="2.1"/>
<rect x="1769.08" y="854.54" width="35.8" height="54.8" rx="14.46" ry="13.15" fill="#fff" stroke="#1c1c1c" stroke-width="2.1"/>
<path d="M1713.72 870.98C1713.72 860.29 1722.58 855.04 1733.4 854.84Q1741.06 854.04 1748.71 854.84C1759.53 855.04 1768.39 860.29 1768.39 870.98L1768.39 892.9C1768.39 903.59 1759.53 908.84 1748.71 909.04Q1741.06 909.84 1733.4 909.04C1722.58 908.84 1713.72 903.59 1713.72 892.9Z" fill="#fff" stroke="#1c1c1c" stroke-width="2.1" stroke-linejoin="round" stroke-linecap="round" />
<path d="M1643.08 733.77H1876.08" fill="none" stroke="#1c1c1c" stroke-width="2.1" stroke-linejoin="round" stroke-linecap="round" />
<path d="M1643.08 853.57H1855.83" fill="none" stroke="#1c1c1c" stroke-width="2.1" stroke-linejoin="round" stroke-linecap="round" />
<path d="M1740.16 647.71L1740.16 932.75" fill="none" stroke="#4a4a4a" stroke-width="0.8" stroke-dasharray="70 8 2 8" stroke-dashoffset="40"/>
<circle cx="1827.05" cy="809.92" r="8.81" fill="#141414"/>
<path d="M1317.43 411.14C1322.02 404.26 1321.56 403.48 1331.19 390.5C1340.82 377.52 1336.7 383.21 1346.33 372.2C1355.96 361.19 1350.92 366.64 1360.09 357.47C1369.26 348.3 1364.68 352.48 1373.85 344.68C1383.02 336.88 1379.12 339.91 1387.61 334.08C1396.1 328.25 1395.41 329.49 1399.31 327.2L1402.47 330.64C1398.89 333.62 1398.99 333.08 1391.74 339.59C1384.49 346.1 1388.07 342.38 1380.73 350.18C1373.39 357.98 1377.06 353.67 1369.72 362.98C1362.38 372.29 1365.82 368.26 1358.71 378.12C1351.6 387.98 1354.81 383.08 1348.39 392.57C1341.97 402.06 1344.72 397.89 1339.45 406.6C1334.18 415.31 1336.47 411.46 1332.57 418.71C1328.67 425.96 1329.36 425.13 1327.75 428.34L1310.55 440.04C1309.17 436.37 1309.4 436.14 1306.42 429.03C1303.44 421.92 1305.04 425.59 1301.6 418.71C1298.16 411.83 1299.77 414.35 1296.1 408.39C1292.43 402.43 1294.49 405.09 1290.59 400.82C1286.69 396.55 1286.46 397.33 1284.4 395.59C1287.15 393.66 1287.15 392.65 1292.66 389.81C1298.17 386.97 1296.33 386.6 1300.92 387.06C1305.51 387.52 1302.75 386.83 1306.42 391.19C1310.09 395.55 1308.25 393.48 1311.92 400.13C1315.59 406.78 1315.59 407.47 1317.43 411.14Z" fill="#3bb143"/>
<path d="M1992.43 411.14C1997.02 404.26 1996.56 403.48 2006.19 390.5C2015.82 377.52 2011.7 383.21 2021.33 372.2C2030.96 361.19 2025.92 366.64 2035.09 357.47C2044.26 348.3 2039.68 352.48 2048.85 344.68C2058.02 336.88 2054.12 339.91 2062.61 334.08C2071.1 328.25 2070.41 329.49 2074.31 327.2L2077.47 330.64C2073.89 333.62 2073.99 333.08 2066.74 339.59C2059.49 346.1 2063.07 342.38 2055.73 350.18C2048.39 357.98 2052.06 353.67 2044.72 362.98C2037.38 372.29 2040.82 368.26 2033.71 378.12C2026.6 387.98 2029.81 383.08 2023.39 392.57C2016.97 402.06 2019.72 397.89 2014.45 406.6C2009.18 415.31 2011.47 411.46 2007.57 418.71C2003.67 425.96 2004.36 425.13 2002.75 428.34L1985.55 440.04C1984.17 436.37 1984.4 436.14 1981.42 429.03C1978.44 421.92 1980.04 425.59 1976.6 418.71C1973.16 411.83 1974.77 414.35 1971.1 408.39C1967.43 402.43 1969.49 405.09 1965.59 400.82C1961.69 396.55 1961.46 397.33 1959.4 395.59C1962.15 393.66 1962.15 392.65 1967.66 389.81C1973.17 386.97 1971.33 386.6 1975.92 387.06C1980.51 387.52 1977.75 386.83 1981.42 391.19C1985.09 395.55 1983.25 393.48 1986.92 400.13C1990.59 406.78 1990.59 407.47 1992.43 411.14Z" fill="#3bb143"/>
<g fill="none" stroke="#da262c" stroke-width="9.6"><circle cx="1343.2" cy="905" r="54.8"/><path d="M1304.45 866.25L1381.95 943.75"/></g>
<g fill="none" stroke="#da262c" stroke-width="9.6"><circle cx="2014.3" cy="905" r="54.8"/><path d="M1975.55 866.25L2053.05 943.75"/></g>
<rect x="304.3" y="203.4" width="209" height="89.6" fill="url(#gPipe)"/>
<path d="M304.9 203.6V293M512.9 203.6V293" fill="none" stroke="#262626" stroke-width="1.6"/>
<path d="M304.6 292.9L285.9 336H536L512.9 292.9Z" fill="url(#gCone)" stroke="#262626" stroke-width="1.8" stroke-linejoin="round"/>
<rect x="304.3" y="734.5" width="209" height="89.8" fill="url(#gPipe)"/>
<path d="M304.9 734.5V824.2M512.9 734.5V824.2" fill="none" stroke="#262626" stroke-width="1.6"/>
<path d="M285.2 691.6H536.2L513.2 734.4H304.6Z" fill="url(#gCone)" stroke="#262626" stroke-width="1.8" stroke-linejoin="round"/>
<path d="M299.6 410C293.8 424.6 281.5 440.2 267.2 456.6C253 473 238.9 492 238.9 515C238.9 538 253 557 267.2 573.4C281.5 589.8 293.8 605.4 298.4 619L523.8 619C528.4 605.4 540.7 589.8 555 573.4C569.2 557 583.3 538 583.3 515C583.3 492 569.2 473 555 456.6C540.7 440.2 528.4 424.6 522.6 410Z" fill="url(#gRub)"/>
<rect x="283" y="368.5" width="255.6" height="9.5" fill="#2a2d2e"/>
<rect x="283" y="650.5" width="255.6" height="9.5" fill="#2a2d2e"/>
<path d="M184.69 281.19L223.2 280.9L218.79 283.78L225.4 289.25L218.22 295.3L179.18 295.3L183.54 291.27L177.5 286.37Z" fill="url(#gThr)" stroke="none"/>
<path d="M184.69 281.19L223.2 280.9L218.79 283.78L225.4 289.25L218.22 295.3L179.18 295.3L183.54 291.27L177.5 286.37Z" fill="none" stroke="#1c1c1c" stroke-width="1.4" stroke-linejoin="round" stroke-linecap="round" />
<path d="M183.54 291.27L218.79 283.78M191.39 295.3L225.4 289.25" fill="none" stroke="#1c1c1c" stroke-width="1.0" stroke-linejoin="round" stroke-linecap="round" />
<path d="M178.94 286.23L191.87 283.78" fill="none" stroke="#1c1c1c" stroke-width="0.7" stroke-linejoin="round" stroke-linecap="round" />
<path d="M178.4 377.4L186.4 371.8L215.4 370.1L223.4 377.4Z" fill="url(#gThr)" stroke="#262626" stroke-width="1.1" stroke-linejoin="round"/>
<path d="M182.4 375.7L214.4 371.4" fill="none" stroke="#262626" stroke-width="0.9"/>
<rect x="166.3" y="294.8" width="70.2" height="32.8" fill="#f4f4f4" stroke="none"/>
<path d="M171.75 294.8L231.05 294.8M171.75 327.6L231.05 327.6" fill="none" stroke="#1c1c1c" stroke-width="2.1" stroke-linejoin="round" stroke-linecap="round" />
<rect x="163.3" y="294.8" width="21.14" height="32.8" rx="8.88" ry="7.87" fill="#ececec" stroke="#1c1c1c" stroke-width="2.1"/>
<rect x="218.36" y="294.8" width="21.14" height="32.8" rx="8.88" ry="7.87" fill="#ececec" stroke="#1c1c1c" stroke-width="2.1"/>
<path d="M185.24 304.64C185.24 298.24 190.47 295.3 196.87 295.1Q201.4 294.3 205.93 295.1C212.33 295.3 217.56 298.24 217.56 304.64L217.56 317.76C217.56 324.16 212.33 327.1 205.93 327.3Q201.4 328.1 196.87 327.3C190.47 327.1 185.24 324.16 185.24 317.76Z" fill="#cfcecf" stroke="#1c1c1c" stroke-width="2.1" stroke-linejoin="round" stroke-linecap="round" />
<rect x="153.1" y="327.7" width="97.2" height="8.1" fill="url(#gWash)" stroke="#262626" stroke-width="1.6"/>
<rect x="152.4" y="410.9" width="97.4" height="8.3" fill="url(#gWash)" stroke="#262626" stroke-width="1.6"/>
<rect x="166.3" y="419.6" width="70.2" height="33.8" fill="#f4f4f4" stroke="none"/>
<path d="M171.75 419.6L231.05 419.6M171.75 453.4L231.05 453.4" fill="none" stroke="#1c1c1c" stroke-width="2.1" stroke-linejoin="round" stroke-linecap="round" />
<rect x="163.3" y="419.6" width="21.14" height="33.8" rx="8.88" ry="8.11" fill="#ececec" stroke="#1c1c1c" stroke-width="2.1"/>
<rect x="218.36" y="419.6" width="21.14" height="33.8" rx="8.88" ry="8.11" fill="#ececec" stroke="#1c1c1c" stroke-width="2.1"/>
<path d="M185.24 429.74C185.24 423.15 190.47 420.1 196.87 419.9Q201.4 419.1 205.93 419.9C212.33 420.1 217.56 423.15 217.56 429.74L217.56 443.26C217.56 449.85 212.33 452.9 205.93 453.1Q201.4 453.9 196.87 453.1C190.47 452.9 185.24 449.85 185.24 443.26Z" fill="#cfcecf" stroke="#1c1c1c" stroke-width="2.1" stroke-linejoin="round" stroke-linecap="round" />
<path d="M184.69 562.49L223.2 562.2L218.79 565.08L225.4 570.55L218.22 576.6L179.18 576.6L183.54 572.57L177.5 567.67Z" fill="url(#gThr)" stroke="none"/>
<path d="M184.69 562.49L223.2 562.2L218.79 565.08L225.4 570.55L218.22 576.6L179.18 576.6L183.54 572.57L177.5 567.67Z" fill="none" stroke="#1c1c1c" stroke-width="1.4" stroke-linejoin="round" stroke-linecap="round" />
<path d="M183.54 572.57L218.79 565.08M191.39 576.6L225.4 570.55" fill="none" stroke="#1c1c1c" stroke-width="1.0" stroke-linejoin="round" stroke-linecap="round" />
<path d="M178.94 567.53L191.87 565.08" fill="none" stroke="#1c1c1c" stroke-width="0.7" stroke-linejoin="round" stroke-linecap="round" />
<path d="M178.4 659.2L186.4 653.5L215.4 651.8L223.4 659.2Z" fill="url(#gThr)" stroke="#262626" stroke-width="1.1" stroke-linejoin="round"/>
<path d="M182.4 657.5L214.4 653.1" fill="none" stroke="#262626" stroke-width="0.9"/>
<rect x="166.3" y="576.2" width="70.2" height="32.8" fill="#f4f4f4" stroke="none"/>
<path d="M171.75 576.2L231.05 576.2M171.75 609L231.05 609" fill="none" stroke="#1c1c1c" stroke-width="2.1" stroke-linejoin="round" stroke-linecap="round" />
<rect x="163.3" y="576.2" width="21.14" height="32.8" rx="8.88" ry="7.87" fill="#ececec" stroke="#1c1c1c" stroke-width="2.1"/>
<rect x="218.36" y="576.2" width="21.14" height="32.8" rx="8.88" ry="7.87" fill="#ececec" stroke="#1c1c1c" stroke-width="2.1"/>
<path d="M185.24 586.04C185.24 579.64 190.47 576.7 196.87 576.5Q201.4 575.7 205.93 576.5C212.33 576.7 217.56 579.64 217.56 586.04L217.56 599.16C217.56 605.56 212.33 608.5 205.93 608.7Q201.4 609.5 196.87 608.7C190.47 608.5 185.24 605.56 185.24 599.16Z" fill="#cfcecf" stroke="#1c1c1c" stroke-width="2.1" stroke-linejoin="round" stroke-linecap="round" />
<rect x="153.1" y="609.6" width="97.2" height="8.6" fill="url(#gWash)" stroke="#262626" stroke-width="1.6"/>
<rect x="152.8" y="692.2" width="97.2" height="7.7" fill="url(#gWash)" stroke="#262626" stroke-width="1.6"/>
<rect x="166.3" y="700.2" width="70.2" height="33.2" fill="#f4f4f4" stroke="none"/>
<path d="M171.75 700.2L231.05 700.2M171.75 733.4L231.05 733.4" fill="none" stroke="#1c1c1c" stroke-width="2.1" stroke-linejoin="round" stroke-linecap="round" />
<rect x="163.3" y="700.2" width="21.14" height="33.2" rx="8.88" ry="7.97" fill="#ececec" stroke="#1c1c1c" stroke-width="2.1"/>
<rect x="218.36" y="700.2" width="21.14" height="33.2" rx="8.88" ry="7.97" fill="#ececec" stroke="#1c1c1c" stroke-width="2.1"/>
<path d="M185.24 710.16C185.24 703.69 190.47 700.7 196.87 700.5Q201.4 699.7 205.93 700.5C212.33 700.7 217.56 703.69 217.56 710.16L217.56 723.44C217.56 729.91 212.33 732.9 205.93 733.1Q201.4 733.9 196.87 733.1C190.47 732.9 185.24 729.91 185.24 723.44Z" fill="#cfcecf" stroke="#1c1c1c" stroke-width="2.1" stroke-linejoin="round" stroke-linecap="round" />
<path d="M603.88 281.19L642.4 280.9L637.99 283.78L644.6 289.25L637.42 295.3L598.38 295.3L602.74 291.27L596.7 286.37Z" fill="url(#gThr)" stroke="none"/>
<path d="M603.88 281.19L642.4 280.9L637.99 283.78L644.6 289.25L637.42 295.3L598.38 295.3L602.74 291.27L596.7 286.37Z" fill="none" stroke="#1c1c1c" stroke-width="1.4" stroke-linejoin="round" stroke-linecap="round" />
<path d="M602.74 291.27L637.99 283.78M610.59 295.3L644.6 289.25" fill="none" stroke="#1c1c1c" stroke-width="1.0" stroke-linejoin="round" stroke-linecap="round" />
<path d="M598.14 286.23L611.07 283.78" fill="none" stroke="#1c1c1c" stroke-width="0.7" stroke-linejoin="round" stroke-linecap="round" />
<path d="M597.6 377.4L605.6 371.8L634.6 370.1L642.6 377.4Z" fill="url(#gThr)" stroke="#262626" stroke-width="1.1" stroke-linejoin="round"/>
<path d="M601.6 375.7L633.6 371.4" fill="none" stroke="#262626" stroke-width="0.9"/>
<rect x="585.5" y="294.8" width="70.2" height="32.8" fill="#f4f4f4" stroke="none"/>
<path d="M590.95 294.8L650.25 294.8M590.95 327.6L650.25 327.6" fill="none" stroke="#1c1c1c" stroke-width="2.1" stroke-linejoin="round" stroke-linecap="round" />
<rect x="582.5" y="294.8" width="21.14" height="32.8" rx="8.88" ry="7.87" fill="#ececec" stroke="#1c1c1c" stroke-width="2.1"/>
<rect x="637.56" y="294.8" width="21.14" height="32.8" rx="8.88" ry="7.87" fill="#ececec" stroke="#1c1c1c" stroke-width="2.1"/>
<path d="M604.44 304.64C604.44 298.24 609.67 295.3 616.07 295.1Q620.6 294.3 625.13 295.1C631.53 295.3 636.76 298.24 636.76 304.64L636.76 317.76C636.76 324.16 631.53 327.1 625.13 327.3Q620.6 328.1 616.07 327.3C609.67 327.1 604.44 324.16 604.44 317.76Z" fill="#cfcecf" stroke="#1c1c1c" stroke-width="2.1" stroke-linejoin="round" stroke-linecap="round" />
<rect x="572.3" y="327.7" width="97.2" height="8.1" fill="url(#gWash)" stroke="#262626" stroke-width="1.6"/>
<rect x="571.6" y="410.9" width="97.4" height="8.3" fill="url(#gWash)" stroke="#262626" stroke-width="1.6"/>
<rect x="585.5" y="419.6" width="70.2" height="33.8" fill="#f4f4f4" stroke="none"/>
<path d="M590.95 419.6L650.25 419.6M590.95 453.4L650.25 453.4" fill="none" stroke="#1c1c1c" stroke-width="2.1" stroke-linejoin="round" stroke-linecap="round" />
<rect x="582.5" y="419.6" width="21.14" height="33.8" rx="8.88" ry="8.11" fill="#ececec" stroke="#1c1c1c" stroke-width="2.1"/>
<rect x="637.56" y="419.6" width="21.14" height="33.8" rx="8.88" ry="8.11" fill="#ececec" stroke="#1c1c1c" stroke-width="2.1"/>
<path d="M604.44 429.74C604.44 423.15 609.67 420.1 616.07 419.9Q620.6 419.1 625.13 419.9C631.53 420.1 636.76 423.15 636.76 429.74L636.76 443.26C636.76 449.85 631.53 452.9 625.13 453.1Q620.6 453.9 616.07 453.1C609.67 452.9 604.44 449.85 604.44 443.26Z" fill="#cfcecf" stroke="#1c1c1c" stroke-width="2.1" stroke-linejoin="round" stroke-linecap="round" />
<path d="M603.88 562.49L642.4 562.2L637.99 565.08L644.6 570.55L637.42 576.6L598.38 576.6L602.74 572.57L596.7 567.67Z" fill="url(#gThr)" stroke="none"/>
<path d="M603.88 562.49L642.4 562.2L637.99 565.08L644.6 570.55L637.42 576.6L598.38 576.6L602.74 572.57L596.7 567.67Z" fill="none" stroke="#1c1c1c" stroke-width="1.4" stroke-linejoin="round" stroke-linecap="round" />
<path d="M602.74 572.57L637.99 565.08M610.59 576.6L644.6 570.55" fill="none" stroke="#1c1c1c" stroke-width="1.0" stroke-linejoin="round" stroke-linecap="round" />
<path d="M598.14 567.53L611.07 565.08" fill="none" stroke="#1c1c1c" stroke-width="0.7" stroke-linejoin="round" stroke-linecap="round" />
<path d="M597.6 659.2L605.6 653.5L634.6 651.8L642.6 659.2Z" fill="url(#gThr)" stroke="#262626" stroke-width="1.1" stroke-linejoin="round"/>
<path d="M601.6 657.5L633.6 653.1" fill="none" stroke="#262626" stroke-width="0.9"/>
<rect x="585.5" y="576.2" width="70.2" height="32.8" fill="#f4f4f4" stroke="none"/>
<path d="M590.95 576.2L650.25 576.2M590.95 609L650.25 609" fill="none" stroke="#1c1c1c" stroke-width="2.1" stroke-linejoin="round" stroke-linecap="round" />
<rect x="582.5" y="576.2" width="21.14" height="32.8" rx="8.88" ry="7.87" fill="#ececec" stroke="#1c1c1c" stroke-width="2.1"/>
<rect x="637.56" y="576.2" width="21.14" height="32.8" rx="8.88" ry="7.87" fill="#ececec" stroke="#1c1c1c" stroke-width="2.1"/>
<path d="M604.44 586.04C604.44 579.64 609.67 576.7 616.07 576.5Q620.6 575.7 625.13 576.5C631.53 576.7 636.76 579.64 636.76 586.04L636.76 599.16C636.76 605.56 631.53 608.5 625.13 608.7Q620.6 609.5 616.07 608.7C609.67 608.5 604.44 605.56 604.44 599.16Z" fill="#cfcecf" stroke="#1c1c1c" stroke-width="2.1" stroke-linejoin="round" stroke-linecap="round" />
<rect x="572.3" y="609.6" width="97.2" height="8.6" fill="url(#gWash)" stroke="#262626" stroke-width="1.6"/>
<rect x="572" y="692.2" width="97.2" height="7.7" fill="url(#gWash)" stroke="#262626" stroke-width="1.6"/>
<rect x="585.5" y="700.2" width="70.2" height="33.2" fill="#f4f4f4" stroke="none"/>
<path d="M590.95 700.2L650.25 700.2M590.95 733.4L650.25 733.4" fill="none" stroke="#1c1c1c" stroke-width="2.1" stroke-linejoin="round" stroke-linecap="round" />
<rect x="582.5" y="700.2" width="21.14" height="33.2" rx="8.88" ry="7.97" fill="#ececec" stroke="#1c1c1c" stroke-width="2.1"/>
<rect x="637.56" y="700.2" width="21.14" height="33.2" rx="8.88" ry="7.97" fill="#ececec" stroke="#1c1c1c" stroke-width="2.1"/>
<path d="M604.44 710.16C604.44 703.69 609.67 700.7 616.07 700.5Q620.6 699.7 625.13 700.5C631.53 700.7 636.76 703.69 636.76 710.16L636.76 723.44C636.76 729.91 631.53 732.9 625.13 733.1Q620.6 733.9 616.07 733.1C609.67 732.9 604.44 729.91 604.44 723.44Z" fill="#cfcecf" stroke="#1c1c1c" stroke-width="2.1" stroke-linejoin="round" stroke-linecap="round" />
<rect x="147.4" y="336.6" width="539.4" height="32.7" fill="url(#gFl)" stroke="#262626" stroke-width="1.8"/>
<rect x="146.6" y="377.2" width="539.2" height="33.3" fill="url(#gFl)" stroke="#262626" stroke-width="1.8"/>
<rect x="147.2" y="618.8" width="538.6" height="32.2" fill="url(#gFl)" stroke="#262626" stroke-width="1.8"/>
<rect x="147.8" y="659" width="538.6" height="32.6" fill="url(#gFl)" stroke="#262626" stroke-width="1.8"/>
<circle cx="201" cy="237" r="24.7" fill="#fff" stroke="#262626" stroke-width="1.8"/>
<text x="201" y="248.4" text-anchor="middle" style="font-family:'Liberation Mono',monospace" font-size="35" fill="#1a1a1a" stroke="#fff" stroke-width="0.4">1</text>
<circle cx="196.9" cy="778.9" r="24.7" fill="#fff" stroke="#262626" stroke-width="1.8"/>
<text x="196.9" y="790.5" text-anchor="middle" style="font-family:'Liberation Sans',sans-serif" font-size="33" fill="#1a1a1a" stroke="#fff" stroke-width="0.4">2</text>
<g>
<path d="M299.6 410C293.8 424.6 281.5 440.2 267.2 456.6C253 473 238.9 492 238.9 515C238.9 538 253 557 267.2 573.4C281.5 589.8 293.8 605.4 298.4 619L523.8 619C528.4 605.4 540.7 589.8 555 573.4C569.2 557 583.3 538 583.3 515C583.3 492 569.2 473 555 456.6C540.7 440.2 528.4 424.6 522.6 410Z" fill="#c4c8c8" fill-opacity="0.29" clip-path="url(#wmclip)"/>
<rect x="229" y="488" width="359" height="57.6" fill="#8a8a8a" fill-opacity="0.035" stroke="none"/>
<circle cx="266.8" cy="511.2" r="15.8" fill="#6a2a2a" fill-opacity="0.92"/>
<path d="M274.6 496.6C264 497.5 257.6 503.8 260.2 510.2C262.6 515.6 272.4 515.4 272.6 521.2C272.7 524 270.2 526 266.4 527.2C274.4 526.2 278.6 521.4 276.6 516.2C274.4 510.8 264.6 510.6 264.0 505.6C263.6 501.6 268 498.4 274.6 496.6Z" fill="#e6e6e6" fill-opacity="0.9"/>
<text x="284.4" y="499.6" font-size="7" fill="#cfcfcf">®</text>
<text x="249.6" y="539.8" style="font-family:'Liberation Serif',serif" font-weight="bold" font-size="13.5" fill="#2f2f2f" fill-opacity="0.85" textLength="34.5" lengthAdjust="spacingAndGlyphs">sona</text>
<text x="302.6" y="511.6" font-family="'Liberation Sans','Noto Sans CJK SC',sans-serif" font-size="19.5" font-weight="500" fill="#2c2e2e" fill-opacity="0.9" textLength="268" lengthAdjust="spacingAndGlyphs">上海松夏减震器有限公司</text>
<text x="304.6" y="521.8" font-weight="bold" font-size="8.6" fill="#2a2c2c" fill-opacity="0.9" textLength="263" lengthAdjust="spacingAndGlyphs" xml:space="preserve">SHANGHAI  SONA  SHOCK  ABSORBER  CO.,LTD</text>
<text x="373.8" y="541.2" font-family="'Liberation Sans','Noto Sans CJK SC',sans-serif" font-size="10.2" fill="#303232" fill-opacity="0.85" textLength="198" lengthAdjust="spacingAndGlyphs" xml:space="preserve">联系电话：15201855009  /  021-61551911</text>
</g>
<text class="cap" transform="scale(1.0 1)" y="1027.6" stroke="#fff" stroke-width="0.35" xml:space="preserve"><tspan x="106.75" letter-spacing="1.11">Arrangement </tspan><tspan x="298.2" letter-spacing="1.75">with </tspan><tspan x="364.58" letter-spacing="1.37">lateral </tspan><tspan x="461.45" letter-spacing="0.8">expansion </tspan><tspan x="612.45" letter-spacing="0.83">joints.</tspan></text>
<text class="cap" transform="scale(1.0 1)" y="501.6" stroke="#fff" stroke-width="0.35" xml:space="preserve"><tspan x="783.3" letter-spacing="-0.79">Fig. </tspan><tspan x="841.17" letter-spacing="2.52">2 </tspan><tspan x="868.85" letter-spacing="0.39">Flange </tspan><tspan x="971.52" letter-spacing="0.61">provided </tspan><tspan x="1099.1" letter-spacing="1.87">with </tspan><tspan x="1165.78" letter-spacing="1.43">smooth</tspan></text>
<text class="cap" transform="scale(1.0 1)" y="541.3" stroke="#fff" stroke-width="0.35" xml:space="preserve"><tspan x="782.79" letter-spacing="0.99">sealing </tspan><tspan x="891.5" letter-spacing="1.19">surface</tspan></text>
<text class="cap" transform="scale(1.0 1)" y="1027.6" stroke="#fff" stroke-width="0.35" xml:space="preserve"><tspan x="783.01" letter-spacing="-0.66">Fig. </tspan><tspan x="839.99" letter-spacing="3.44">3 </tspan><tspan x="868.48" letter-spacing="-0.56">Do </tspan><tspan x="915.78" letter-spacing="2.32">not </tspan><tspan x="970.48" letter-spacing="0.41">use </tspan><tspan x="1028.03" letter-spacing="0.78">flange </tspan><tspan x="1121.48" letter-spacing="1.94">with </tspan><tspan x="1188.43" letter-spacing="1.17">tongue </tspan><tspan x="1294.7" letter-spacing="2.57">or</tspan></text>
<text class="cap" transform="scale(1.0 1)" y="1067.4" stroke="#fff" stroke-width="0.35" xml:space="preserve"><tspan x="782.45" letter-spacing="0.32">groove </tspan><tspan x="883.58" letter-spacing="1.31">which </tspan><tspan x="973.9" letter-spacing="1.18">will </tspan><tspan x="1026.89" letter-spacing="1.09">damage </tspan><tspan x="1148.54" letter-spacing="1.89">the </tspan><tspan x="1202.67" letter-spacing="1.04">rubber.</tspan></text>
<text class="cap" transform="scale(1.0 1)" y="501.6" stroke="#fff" stroke-width="0.35" xml:space="preserve"><tspan x="1457.57" letter-spacing="-0.85">Fig. </tspan><tspan x="1515.12" letter-spacing="3.44">4 </tspan><tspan x="1543.61" letter-spacing="0.49">Flange </tspan><tspan x="1646.18" letter-spacing="0.76">provided </tspan><tspan x="1774.38" letter-spacing="1.94">with </tspan><tspan x="1842.19" letter-spacing="1.54">flat </tspan><tspan x="1893.47" letter-spacing="1.23">sealing</tspan></text>
<text class="cap" transform="scale(1.0 1)" y="541.3" stroke="#fff" stroke-width="0.35" xml:space="preserve"><tspan x="1456.72" letter-spacing="1.28">gasket </tspan><tspan x="1557.29" letter-spacing="3.37">to </tspan><tspan x="1594.9" letter-spacing="1.22">protect </tspan><tspan x="1699.74" letter-spacing="1.89">the </tspan><tspan x="1753.87" letter-spacing="1.44">rubber </tspan><tspan x="1855.58" letter-spacing="1.14">surface.</tspan></text>
<text class="cap" transform="scale(1.0 1)" y="1027.6" stroke="#fff" stroke-width="0.35" xml:space="preserve"><tspan x="1457.57" letter-spacing="-0.85">Fig. </tspan><tspan x="1515.69" letter-spacing="2.87">5 </tspan><tspan x="1543.04" letter-spacing="0.97">Sharp </tspan><tspan x="1635.35" letter-spacing="0.42">edge </tspan><tspan x="1712.27" letter-spacing="1.29">pipe </tspan><tspan x="1781.5" letter-spacing="1.07">ends </tspan><tspan x="1858.43" letter-spacing="1.27">will </tspan><tspan x="1911.7" letter-spacing="1.15">damage</tspan></text>
<text class="cap" transform="scale(1.0 1)" y="1067.4" stroke="#fff" stroke-width="0.35" xml:space="preserve"><tspan x="1456.72" letter-spacing="1.89">the </tspan><tspan x="1511.7" letter-spacing="1.44">rubber </tspan><tspan x="1613.41" letter-spacing="0.52">face.</tspan></text>
<text transform="translate(82.2 340) rotate(-90)" x="-3.66 49.81 72.53 116.28 162.63" y="0" font-size="75.5" font-weight="bold" fill="#3bb44a" stroke="#3bb44a" stroke-width="1.6" stroke-linejoin="round">Right</text>
<text transform="translate(82.3 889) rotate(-90)" x="0.46 70.92 99.48 143.63 190.73" y="0" font-size="75.5" font-weight="bold" fill="#d9232b" stroke="#d9232b" stroke-width="1.6" stroke-linejoin="round">Wrong</text>
</svg>
</body>
</html>
